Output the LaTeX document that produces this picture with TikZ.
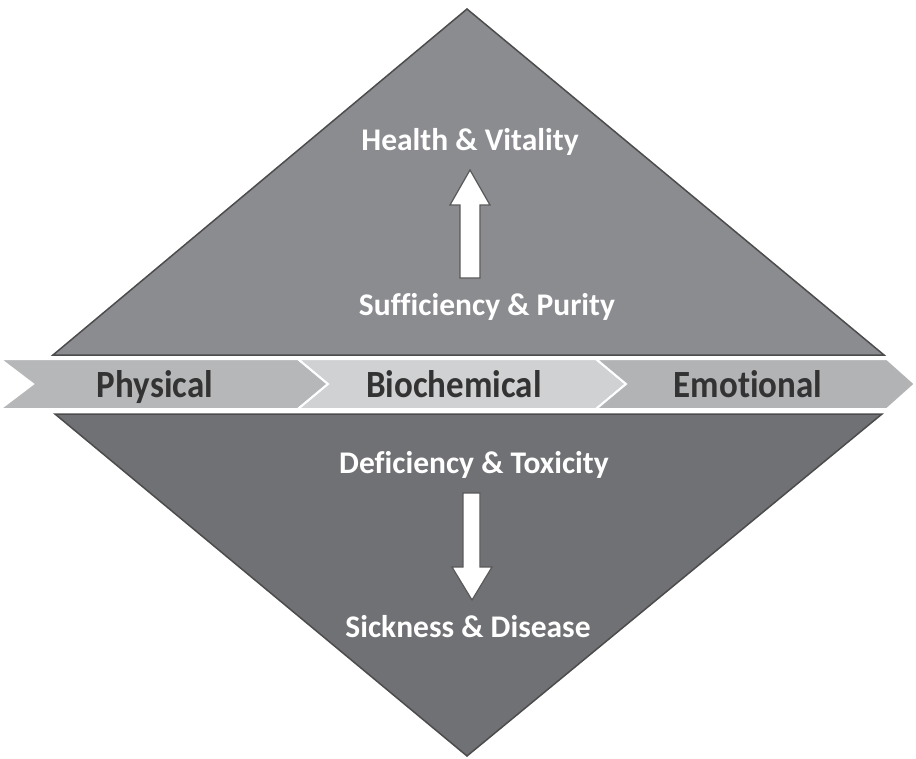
\documentclass[tikz,border=0pt]{standalone}
\usepackage{fontspec}
\setmainfont{Carlito}[RawFeature={-liga;-dlig;-clig}]
\begin{document}
\begin{tikzpicture}[x=1pt,y=-1pt,
  tri/.style={draw=black!70, line width=1.5pt, line join=miter},
  chev/.style={draw=white, line width=2pt, line join=miter},
  bandtext/.style={anchor=base, font=\bfseries\fontsize{35}{40}\selectfont, text=black!80, yscale=1.1},
  wtext/.style={anchor=base, font=\bfseries\fontsize{31.5}{36}\selectfont, text=white},
  bigarrow/.style={fill=white, draw=black!65, line width=1.2pt, line join=miter}]
\useasboundingbox[fill=white] (0,0) rectangle (916,758);
% triangles
\draw[tri, fill={rgb,255:red,139;green,140;blue,144}] (467,9) -- (884,355) -- (53,355) -- cycle;
\draw[tri, fill={rgb,255:red,112;green,113;blue,116}] (55,414) -- (882,414) -- (467,756) -- cycle;
% chevrons
\draw[chev, fill={rgb,255:red,182;green,183;blue,185}] (0,359) -- (298,359) -- (328,384) -- (298,409) -- (0,409) -- (33,384) -- cycle;
\draw[chev, fill={rgb,255:red,208;green,209;blue,211}] (298,359) -- (596,359) -- (626,384) -- (596,409) -- (298,409) -- (328,384) -- cycle;
\draw[chev, fill={rgb,255:red,178;green,179;blue,181}] (596,359) -- (887,359) -- (915,384) -- (887,409) -- (596,409) -- (626,384) -- cycle;
\node[bandtext, transform shape] (phys) at (155,397) {Physical};
\node[bandtext, transform shape] (bio) at (454,397) {Biochemical};
\node[bandtext, transform shape] (emo) at (748,397) {Emotional};
% texts
\node[wtext] (health) at (470,150) {Health \& Vitality};
\node[wtext] (suff) at (487,315) {Sufficiency \& Purity};
\node[wtext] (defi) at (474,473) {Deficiency \& Toxicity};
\node[wtext] (sick) at (468,637) {Sickness \& Disease};
% arrows
\draw[bigarrow] (460,278) -- (460,205) -- (450,205) -- (470,170) -- (490,205) -- (480,205) -- (480,278) -- cycle;
\draw[bigarrow] (463,493) -- (463,567) -- (452,567) -- (472,600) -- (492,567) -- (480,567) -- (480,493) -- cycle;
\end{tikzpicture}
\end{document}
